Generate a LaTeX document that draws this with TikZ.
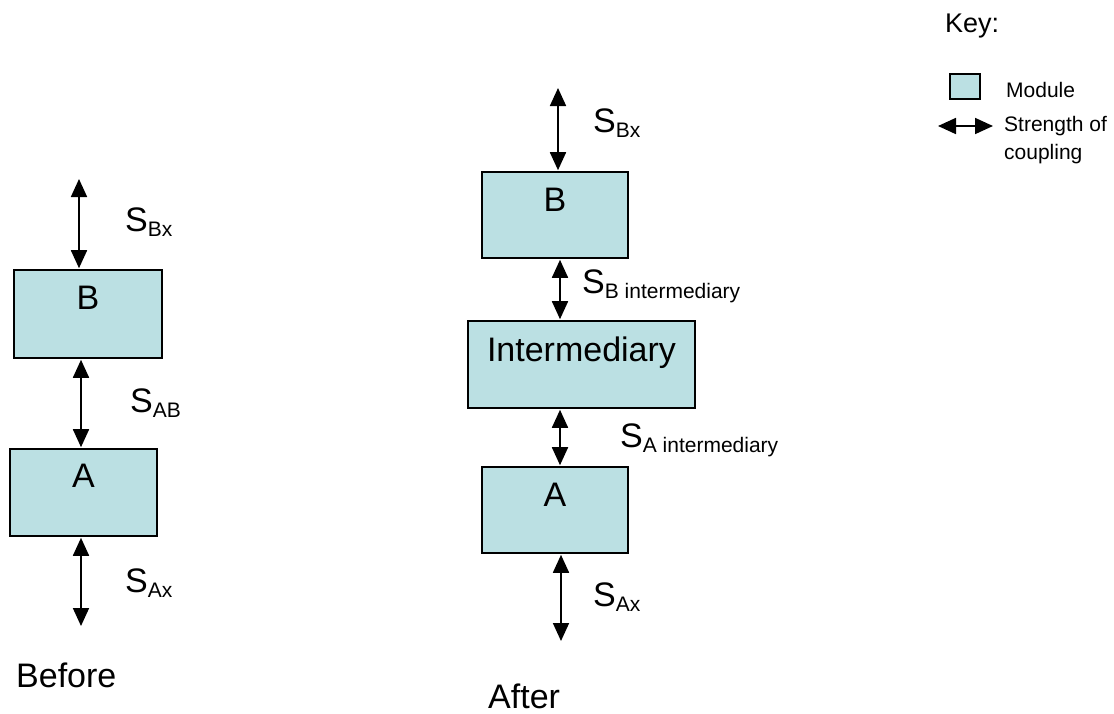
\documentclass[tikz,border=0pt]{standalone}
\usepackage{fontspec}
\setmainfont{Liberation Sans}
\usetikzlibrary{arrows.meta}
\definecolor{modfill}{HTML}{BBE0E3}
\newcommand{\coupS}[1]{{\fontsize{34}{40}\selectfont S}\raisebox{-5pt}{\fontsize{21}{24}\selectfont #1}}

\begin{document}
\begin{tikzpicture}[x=1pt, y=-1pt,
	module/.style={draw=black, line width=1.6pt, fill=modfill, inner sep=0pt},
	modtext/.style={anchor=base, inner sep=0pt, font=\fontsize{34}{40}\selectfont},
	coupling/.style={line width=1.8pt, {Triangle[length=18pt,width=16pt]}-{Triangle[length=18pt,width=16pt]}, shorten <=1pt, shorten >=1pt},
	lbl/.style={anchor=base west, inner sep=0pt}]

	\useasboundingbox (0,0) rectangle (1114,713);

	% before
	\node [module, minimum width=148pt, minimum height=88pt] (B1) at (88,314) {};
	\node [module, minimum width=147pt, minimum height=87pt] (A1) at (83.5,492.5) {};
	\node [modtext] (B1t) at ([yshift=-40pt]B1.north) {B};
	\node [modtext] (A1t) at ([yshift=-39pt]A1.north) {A};
	\coordinate (B1x) at (79,178);
	\coordinate (A1x) at (81,627);
	\draw [coupling] (B1x) -- (B1x |- B1.north);
	\draw [coupling] ([xshift=-7pt]B1.south) -- ([xshift=-7pt]B1.south |- A1.north);
	\draw [coupling] ([xshift=-2.5pt]A1.south) -- (A1x);
	\node [lbl] (sBx1) at (125,231) {\coupS{Bx}};
	\node [lbl] (sAB1) at (130,412) {\coupS{AB}};
	\node [lbl] (sAx1) at (125,592) {\coupS{Ax}};
	\node [lbl, font=\fontsize{34}{40}\selectfont] (before) at (16,687) {Before};

	% after
	\node [module, minimum width=146pt, minimum height=86pt] (B2) at (555,215) {};
	\node [module, minimum width=227pt, minimum height=87pt] (I2) at (581.5,364.5) {};
	\node [module, minimum width=146pt, minimum height=86pt] (A2) at (555,510) {};
	\node [modtext] (B2t) at ([yshift=-40pt]B2.north) {B};
	\node [modtext] (I2t) at ([yshift=-41pt]I2.north) {Intermediary};
	\node [modtext] (A2t) at ([yshift=-40pt]A2.north) {A};
	\coordinate (B2x) at (558,87);
	\coordinate (A2x) at (561,642);
	\draw [coupling] (B2x) -- (B2x |- B2.north);
	\draw [coupling] ([xshift=5pt]B2.south) -- ([xshift=5pt]B2.south |- I2.north);
	\draw [coupling] ([xshift=5pt]A2.north |- I2.south) -- ([xshift=5pt]A2.north);
	\draw [coupling] ([xshift=6pt]A2.south) -- (A2x);
	\node [lbl] (sBx2) at (593,132) {\coupS{Bx}};
	\node [lbl] (sBI2) at (582,293) {\coupS{B intermediary}};
	\node [lbl] (sAI2) at (620,447) {\coupS{A intermediary}};
	\node [lbl] (sAx2) at (593,606) {\coupS{Ax}};
	\node [lbl, font=\fontsize{34}{40}\selectfont] (after) at (488,708) {After};

	% key
	\node [lbl, font=\fontsize{27}{32}\selectfont] (key) at (945,32) {Key:};
	\node [module, minimum width=30pt, minimum height=25pt] (keymod) at (965,86.5) {};
	\node [lbl, font=\fontsize{21}{28}\selectfont] (keymodt) at (1006,97) {Module};
	\coordinate (keyl) at (938,126);
	\coordinate (keyr) at (993,126);
	\draw [coupling, shorten <=0pt, shorten >=0pt] (keyl) -- (keyr);
	\node [anchor=north west, inner sep=0pt, align=left, font=\fontsize{21}{28}\selectfont] (keycoup) at (1004,116) {Strength of\\coupling};

\end{tikzpicture}
\end{document}
